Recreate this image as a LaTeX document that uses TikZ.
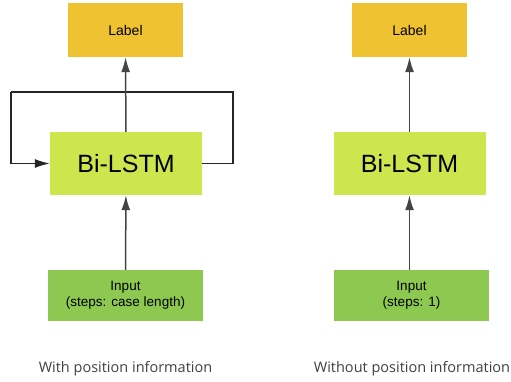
\documentclass[tikz,border=0pt]{standalone}
\usepackage{fontspec}
\setmainfont{Liberation Sans}
\newfontfamily\capfont{Open Sans}
\usetikzlibrary{positioning,arrows.meta}
\definecolor{labelcol}{HTML}{EEC231}
\definecolor{lstmcol}{HTML}{CDE64D}
\definecolor{inputcol}{HTML}{8DC851}
\definecolor{arrowcol}{HTML}{444444}
\tikzset{
 lab/.style
  = {rectangle, fill=labelcol, minimum width=115pt, minimum height=54pt,
     font=\fontsize{14}{16}\selectfont, text centered},
 lstm/.style
  = {rectangle, fill=lstmcol, minimum width=152pt, minimum height=63pt,
     font=\fontsize{25}{28}\selectfont, text centered},
 inp/.style
  = {rectangle, fill=inputcol, minimum width=155pt, minimum height=51pt,
     font=\fontsize{13.5}{16}\selectfont, align=center},
 capt/.style
  = {font=\capfont\fontsize{14.5}{16}\selectfont, text=black!75},
 l/.style
  = {draw=arrowcol, line width=1.5pt, ->, >={Latex[length=15pt,width=9pt]}},
 ll/.style
  = {draw=black!85, line width=1.3pt},
}

\begin{document}
\begin{tikzpicture}[x=1pt, y=-1pt]
\useasboundingbox (0,0) rectangle (511,382);

% With position information
\node[lab] (labA) at (125.5,30) {Label};
\node[lstm] (lstmA) at (126,163.5) {Bi-LSTM};
\node[inp] (inA) at (125.5,295.5) {Input\\(steps: case length)};
\node[capt] (capA) at (125.5,369) {With position information};

% Recurrent loop
\coordinate (loopR) at (233,92);
\coordinate (loopL) at (11,92);
\draw[ll] (lstmA.east) -| (loopR) -- (loopL);
\draw[l, ll] (loopL) |- (lstmA.west);

\draw[l] (inA) -- (lstmA);
\draw[l] (lstmA) -- (labA);

% Without position information
\node[lab] (labB) at (409.5,30) {Label};
\node[lstm] (lstmB) at (409.5,163.5) {Bi-LSTM};
\node[inp] (inB) at (411.5,295.5) {Input\\(steps: 1)};
\node[capt] (capB) at (412,369) {Without position information};

\draw[l] (inB.north -| lstmB) -- (lstmB);
\draw[l] (lstmB) -- (labB);

\end{tikzpicture}
\end{document}
